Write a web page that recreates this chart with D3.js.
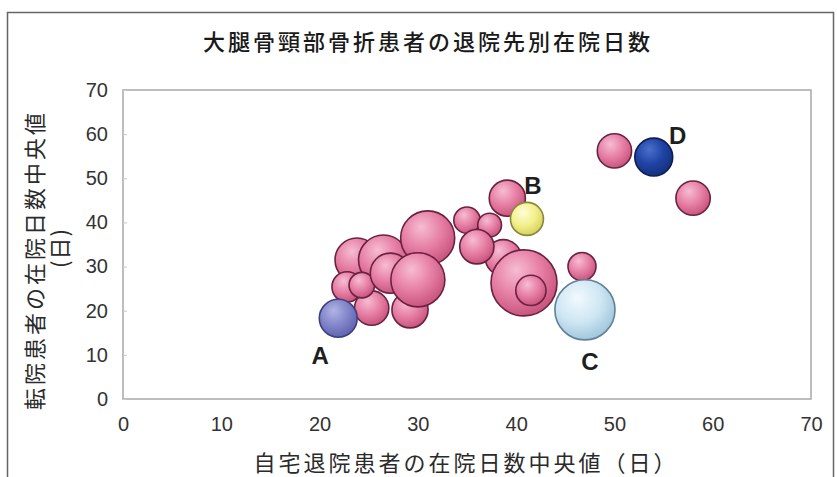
<!DOCTYPE html>
<html>
<head>
<meta charset="utf-8">
<script src="https://cdn.jsdelivr.net/npm/d3@7"></script>
<style>
  html, body { margin: 0; padding: 0; background: #fff; }
  svg { display: block; }
  text { font-family: "Liberation Sans", Arial, sans-serif; }
  .jp { font-family: "Noto Sans CJK JP", "Noto Sans", sans-serif; }
</style>
</head>
<body>
<svg id="chart" width="837" height="477"></svg>
<script>
// Median length of stay: patients discharged home (x) vs. transferred (y), bubble = patients
const homeDays     = [23.8, 26.5, 31.0, 29.2, 25.3, 22.8, 24.3, 27.2, 30.0, 35.0, 37.3, 38.7, 36.0, 40.8, 41.5, 46.7, 39.1, 50.0, 58.0, 21.9, 41.1, 47.0, 54.0];
const transferDays = [31.5, 31.5, 36.5, 20.2, 20.6, 25.4, 25.8, 28.5, 27.0, 40.5, 39.4, 32.0, 34.5, 26.3, 24.6, 30.0, 45.5, 56.2, 45.5, 18.3, 40.8, 20.2, 54.8];
const patients     = [44, 57, 67, 30, 27, 21, 15, 37, 67, 16, 13, 30, 27, 100, 21, 18, 30, 27, 27, 33, 25, 83, 33];
const groups       = ["", "", "", "", "", "", "", "", "", "", "", "", "", "", "", "", "", "", "", "A", "B", "C", "D"];

const xTicks = [0, 10, 20, 30, 40, 50, 60, 70];
const yTicks = [0, 10, 20, 30, 40, 50, 60, 70];

const titleText = "大腿骨頸部骨折患者の退院先別在院日数";
const xTitle = "自宅退院患者の在院日数中央値（日）";
const yTitle1 = "転院患者の在院日数中央値";
const yTitle2 = "(日)";

const svg = d3.select("#chart");
const plot = { left: 123, top: 90, right: 811, bottom: 399 };

const x = d3.scaleLinear().domain([0, 70]).range([plot.left, plot.right]);
const y = d3.scaleLinear().domain([0, 70]).range([plot.bottom, plot.top]);
const r = d3.scaleSqrt().domain([0, 100]).range([0, 33]);

// Colour schemes per group (highlight, base, edge, outline)
const palette = {
  "":  ["#f6bdd2", "#e67ea4", "#c6527b", "#6a2240"],
  "A": ["#b2b4e4", "#8285c9", "#5e62ac", "#3e4180"],
  "B": ["#fdfdd8", "#f3f08c", "#d4cf5c", "#8a863a"],
  "C": ["#f2f9fd", "#cfe7f4", "#9fc5db", "#5f8297"],
  "D": ["#4a70cc", "#1f43a4", "#15307c", "#0c1d52"]
};

const defs = svg.append("defs");
Object.entries(palette).forEach(([k, c]) => {
  const g = defs.append("radialGradient")
    .attr("id", "grad" + (k || "P"))
    .attr("cx", "40%").attr("cy", "35%").attr("r", "68%")
    .attr("fx", "38%").attr("fy", "30%");
  g.append("stop").attr("offset", "0%").attr("stop-color", c[0]);
  g.append("stop").attr("offset", "55%").attr("stop-color", c[1]);
  g.append("stop").attr("offset", "100%").attr("stop-color", c[2]);
});

// Outer chart frame
svg.append("rect")
  .attr("x", 7.5).attr("y", 12.5)
  .attr("width", 826).attr("height", 480)
  .attr("fill", "#fff")
  .attr("stroke", "#666").attr("stroke-width", 1.5);

// Plot area
svg.append("rect")
  .attr("x", plot.left).attr("y", plot.top)
  .attr("width", plot.right - plot.left).attr("height", plot.bottom - plot.top)
  .attr("fill", "#fff")
  .attr("stroke", "#a8a8a8").attr("stroke-width", 1.5);

// Title
svg.append("text")
  .attr("class", "jp")
  .attr("x", 428).attr("y", 40)
  .attr("text-anchor", "middle").attr("dominant-baseline", "central")
  .attr("font-size", 22).attr("letter-spacing", 3).attr("font-weight", 500)
  .attr("fill", "#1a1a1a")
  .text(titleText);

// Axes
const xAxis = d3.axisBottom(x).tickValues(xTicks).tickSize(0).tickPadding(22);
const yAxis = d3.axisLeft(y).tickValues(yTicks).tickSize(-4).tickPadding(15);

const gx = svg.append("g").attr("transform", `translate(0,${plot.bottom})`).call(xAxis);
gx.select(".domain").remove();
gx.selectAll("text").attr("font-size", 20).attr("fill", "#333")
  .attr("font-family", "Liberation Sans, Arial, sans-serif")
  .attr("dy", "0.5em");

const gy = svg.append("g").attr("transform", `translate(${plot.left},0)`).call(yAxis);
gy.select(".domain").remove();
gy.selectAll("line").attr("stroke", "#c8c8c8");
gy.selectAll("text").attr("font-size", 20).attr("fill", "#333")
  .attr("font-family", "Liberation Sans, Arial, sans-serif");

// Axis titles
svg.append("text")
  .attr("class", "jp")
  .attr("x", 466).attr("y", 461)
  .attr("text-anchor", "middle").attr("dominant-baseline", "central")
  .attr("font-size", 22).attr("letter-spacing", 3)
  .attr("fill", "#2a2a2a")
  .text(xTitle);

svg.append("text")
  .attr("class", "jp")
  .attr("transform", "translate(33,260) rotate(-90)")
  .attr("text-anchor", "middle").attr("dominant-baseline", "central")
  .attr("font-size", 22).attr("letter-spacing", 3)
  .attr("fill", "#2a2a2a")
  .text(yTitle1);

svg.append("text")
  .attr("class", "jp")
  .attr("transform", "translate(58,248) rotate(-90)")
  .attr("text-anchor", "middle").attr("dominant-baseline", "central")
  .attr("font-size", 22).attr("letter-spacing", 1)
  .attr("fill", "#2a2a2a")
  .text(yTitle2);

// Bubbles
const data = homeDays.map((d, i) => ({
  x: d, y: transferDays[i], n: patients[i], g: groups[i]
}));

svg.append("g").selectAll("circle")
  .data(data)
  .join("circle")
  .attr("cx", d => x(d.x))
  .attr("cy", d => y(d.y))
  .attr("r", d => r(d.n))
  .attr("fill", d => `url(#grad${d.g || "P"})`)
  .attr("stroke", d => palette[d.g][3])
  .attr("stroke-width", 1.6);

// Group labels next to their bubbles
const labelOffset = { A: [-18, 37], B: [6, -33], C: [5, 52], D: [24, -22] };
svg.append("g").selectAll("text")
  .data(data.filter(d => d.g))
  .join("text")
  .attr("x", d => x(d.x) + labelOffset[d.g][0])
  .attr("y", d => y(d.y) + labelOffset[d.g][1])
  .attr("text-anchor", "middle").attr("dominant-baseline", "central")
  .attr("font-size", 24).attr("font-weight", "bold")
  .attr("fill", "#1e1e1e")
  .text(d => d.g);
</script>
</body>
</html>
